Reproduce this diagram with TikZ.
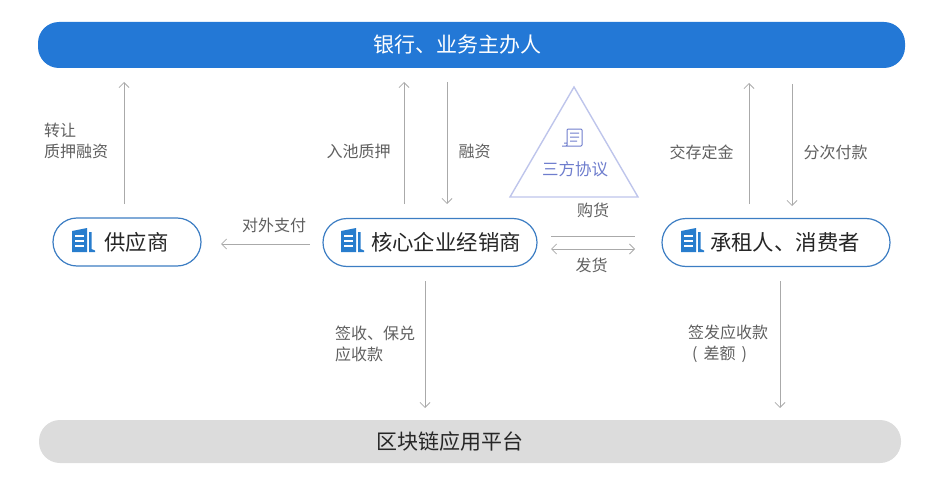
\documentclass[tikz,border=0pt]{standalone}
\usepackage{fontspec}
\setmainfont{Noto Sans CJK SC}
\usepackage{xcolor}
\usetikzlibrary{arrows.meta,positioning}
\definecolor{barblue}{RGB}{35,120,214}
\definecolor{bargray}{RGB}{220,220,220}
\definecolor{edgeblue}{RGB}{60,125,195}
\definecolor{iconblue}{RGB}{40,125,205}
\definecolor{flowgray}{RGB}{170,170,170}
\definecolor{labelgray}{RGB}{95,95,95}
\definecolor{pactcolor}{RGB}{110,125,205}
\definecolor{pactedge}{RGB}{190,197,235}

\begin{document}
\begin{tikzpicture}[
    x=1pt, y=-1pt,
    bar/.style={rectangle, rounded corners=21pt, inner sep=0pt, font=\fontsize{21}{24}\selectfont},
    party/.style={rectangle, rounded corners=24pt, draw=edgeblue, line width=1.2pt, fill=white, inner sep=0pt, minimum height=48pt, font=\fontsize{21.4}{24}\selectfont, text=black!85},
    arrow/.style={-{Straight Barb[length=5pt,width=10pt]}, draw=flowgray, line width=0.8pt},
    lbl/.style={text=labelgray, font=\fontsize{16}{21}\selectfont, inner sep=0pt, align=left},
    building/.pic={
        \fill[iconblue] (-11,-10) -- (4,-13) -- (4,11) -- (-11,11) -- cycle;
        \foreach \y in {-6,-1,4} \fill[white] (-8,\y) rectangle (1,\y+1.6);
        \fill[iconblue] (6,-9) -- (8.5,-9) -- (8.5,8) -- (12,9.5) -- (12,11) -- (6,11) -- cycle;
    }
]
\useasboundingbox (0,0) rectangle (941,492);

\node[bar, fill=barblue, text=white, minimum width=867pt, minimum height=46pt] (bank) at (471.5,45) {\hspace*{-29pt}银行、业务主办人};
\node[bar, fill=bargray, text=black!85, minimum width=862pt, minimum height=43pt] (platform) at (470,441.5) {\hspace*{-40pt}区块链应用平台};

\node[party, minimum width=148pt] (supplier) at (127,242) {\hspace*{19pt}供应商};
\node[party, minimum width=214pt] (dealer) at (430,242.5) {\hspace*{32pt}核心企业经销商};
\node[party, minimum width=228pt] (consumer) at (776,242.5) {\hspace*{18pt}承租人、消费者};
\pic at (83,241) {building};
\pic at (352,241) {building};
\pic at (692,241) {building};

\coordinate (apex) at (574,87);
\coordinate (left) at (510,197);
\coordinate (right) at (638,197);
\draw[draw=pactedge, line width=1.4pt] (apex) -- (left) -- (right) -- cycle;
\node[text=pactcolor, font=\fontsize{16.5}{18}\selectfont, inner sep=0pt] (pacttext) at (575,169) {三方协议};
\draw[pactcolor, line width=1pt, rounded corners=1pt] (566,146) -- (582,146) -- (582,129) -- (567,129) -- (567,146) -- (562,146) (564,143) -- (567,143) (570,133) -- (579,133) (570,137) -- (579,137) (570,141) -- (577,141);

% upper flows
\coordinate (a1) at (124,204); \coordinate (a2) at (124,82);
\coordinate (b1) at (404,204); \coordinate (b2) at (404,82);
\coordinate (c1) at (447,82);  \coordinate (c2) at (447,204);
\coordinate (d1) at (749,204); \coordinate (d2) at (749,83);
\coordinate (e1) at (792,84);  \coordinate (e2) at (792,206);
\draw[arrow] (a1) -- (a2);
\draw[arrow] (b1) -- (b2);
\draw[arrow] (c1) -- (c2);
\draw[arrow] (d1) -- (d2);
\draw[arrow] (e1) -- (e2);

% lower flows
\coordinate (f1) at (425,281); \coordinate (f2) at (425,408);
\coordinate (g1) at (780,281); \coordinate (g2) at (780,408);
\draw[arrow] (f1) -- (f2);
\draw[arrow] (g1) -- (g2);

% between the parties
\coordinate (h1) at (310,244); \coordinate (h2) at (221,244);
\draw[arrow] (h1) -- (h2);
\coordinate (i1) at (551,236); \coordinate (i2) at (635,236);
\coordinate (j1) at (551,249); \coordinate (j2) at (635,249);
\draw[draw=flowgray, line width=0.8pt] (i1) -- (i2);
\draw[arrow, {Straight Barb[length=5pt,width=10pt]}-{Straight Barb[length=5pt,width=10pt]}] (j1) -- (j2);

\node[lbl, anchor=west] (l1) at (44,141) {转让\\质押融资};
\node[lbl] (l2) at (358.5,151) {入池质押};
\node[lbl] (l3) at (474.5,151) {融资};
\node[lbl] (l4) at (701.5,152) {交存定金};
\node[lbl] (l5) at (835.5,152) {分次付款};
\node[lbl] (l6) at (274,225) {对外支付};
\node[lbl] (l7) at (593,210) {购货};
\node[lbl] (l8) at (591.5,265) {发货};
\node[lbl, anchor=west] (l9) at (335,344) {签收、保兑\\应收款};
\node[lbl, anchor=west] (l10) at (688,343.5) {签发应收款\\\hspace*{4pt}(\hspace{6pt}差额\hspace{6pt})};
\end{tikzpicture}
\end{document}
